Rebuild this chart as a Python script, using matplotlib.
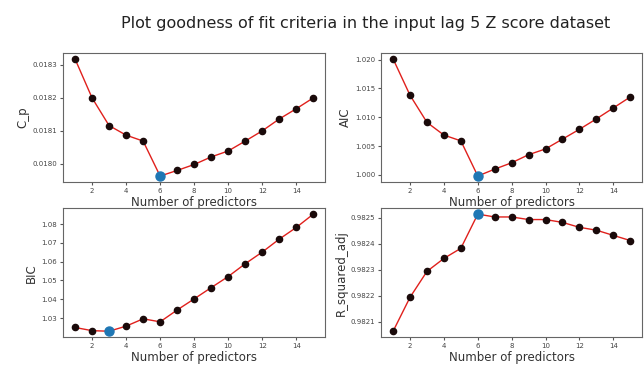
import matplotlib
matplotlib.use("Agg")
import matplotlib.pyplot as plt
from matplotlib.ticker import FormatStrFormatter
import numpy as np

predictors = list(range(1, 16))
cp = [0.018318, 0.018200, 0.018116, 0.018087, 0.018069, 0.017963, 0.017980, 0.017998,
      0.018021, 0.018039, 0.018069, 0.018100, 0.018136, 0.018167, 0.018200]
aic = [1.0201, 1.0138, 1.0091, 1.0069, 1.0059, 0.9998, 1.0010, 1.0021,
       1.0035, 1.0045, 1.0062, 1.0079, 1.0097, 1.0116, 1.0135]
bic = [1.0250, 1.0233, 1.0230, 1.0257, 1.0296, 1.0280, 1.0343, 1.0402,
       1.0462, 1.0521, 1.0589, 1.0651, 1.0720, 1.0782, 1.0853]
r2adj = [0.982063, 0.982194, 0.982294, 0.982344, 0.982383, 0.982515, 0.982504, 0.982504,
         0.982494, 0.982494, 0.982483, 0.982464, 0.982453, 0.982433, 0.982413]

cp_ticks = [0.0180, 0.0181, 0.0182, 0.0183]
aic_ticks = [1.000, 1.005, 1.010, 1.015, 1.020]
bic_ticks = [1.03, 1.04, 1.05, 1.06, 1.07, 1.08]
r2_ticks = [0.9821, 0.9822, 0.9823, 0.9824, 0.9825]

series = [("C_p", cp, "min", cp_ticks, "%.4f"),
          ("AIC", aic, "min", aic_ticks, "%.3f"),
          ("BIC", bic, "min", bic_ticks, "%.2f"),
          ("R_squared_adj", r2adj, "max", r2_ticks, "%.4f")]

fig = plt.figure(figsize=(6.44, 3.66), dpi=100)
positions = [[0.098, 0.503, 0.407, 0.352], [0.592, 0.503, 0.405, 0.352],
             [0.098, 0.079, 0.407, 0.352], [0.592, 0.079, 0.405, 0.352]]

for (name, vals, mode, ticks, fmt), pos in zip(series, positions):
    ax = fig.add_axes(pos)
    ax.plot(predictors, vals, color="#e0201c", linewidth=1.0, zorder=1)
    ax.scatter(predictors, vals, color="#1a0a0a", s=20, zorder=2)
    idx = int(np.argmin(vals)) if mode == "min" else int(np.argmax(vals))
    ax.plot(predictors[idx], vals[idx], "o", color="#1f77b4", markersize=6.5, zorder=3)
    ax.set_yticks(ticks)
    ax.yaxis.set_major_formatter(FormatStrFormatter(fmt))
    ax.set_xticks([2, 4, 6, 8, 10, 12, 14])
    ax.set_xlabel("Number of predictors", fontsize=8.5, labelpad=1, color="#333333")
    ax.set_ylabel(name, fontsize=8.5, labelpad=2, color="#333333")
    ax.tick_params(labelsize=5, length=2.5, pad=2, colors="#555555", labelcolor="#444444")
    for s in ax.spines.values():
        s.set_color("#666666")
        s.set_linewidth(0.8)

fig.suptitle("Plot goodness of fit criteria in the input lag 5 Z score dataset",
             fontsize=11.5, x=0.568, y=0.955, color="#222222")

fig.savefig("out.png", dpi=100)
